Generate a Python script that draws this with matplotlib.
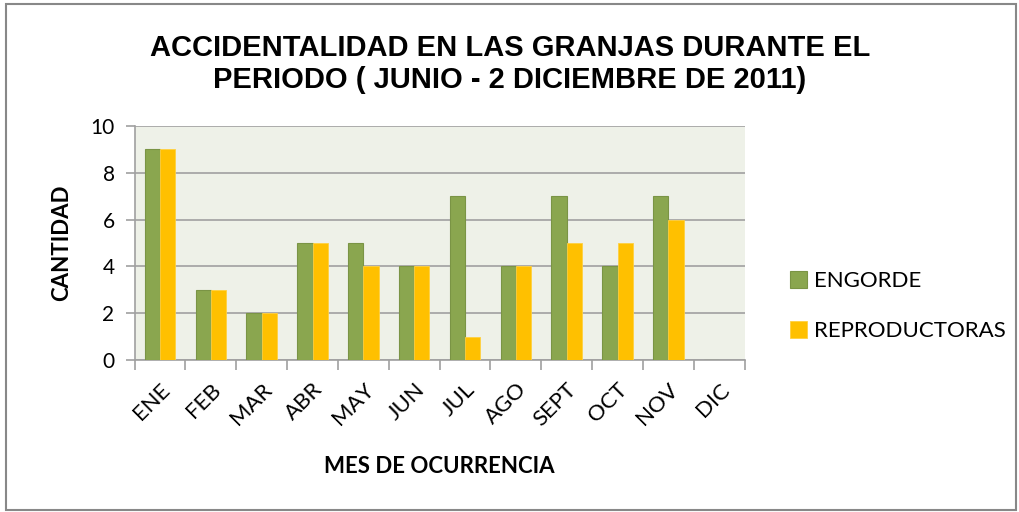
import numpy as np
import matplotlib.pyplot as plt
from matplotlib.patches import Rectangle

meses = ['ENE', 'FEB', 'MAR', 'ABR', 'MAY', 'JUN', 'JUL', 'AGO', 'SEPT', 'OCT', 'NOV', 'DIC']
engorde = [9, 3, 2, 5, 5, 4, 7, 4, 7, 4, 7, 0]
reproductoras = [9, 3, 2, 5, 4, 4, 1, 4, 5, 5, 6, 0]

verde = '#8aa64f'
amarillo = '#ffc000'
gris = '#a0a0a0'
calibri = ['Lato', 'DejaVu Sans']

plt.rcParams['font.family'] = ['Liberation Sans', 'DejaVu Sans']

fig = plt.figure(figsize=(10.2, 5.12), dpi=100)
ax = fig.add_axes([0.132, 0.297, 0.598, 0.457])
ax.set_facecolor('#eef1e8')

x = np.arange(len(meses))
w = 0.3
ax.bar(x - w / 2, engorde, w, color=verde, edgecolor='#7a9445', linewidth=0.8, label='ENGORDE', zorder=3)
ax.bar(x + w / 2, reproductoras, w, color=amarillo, edgecolor='#ffd040', linewidth=0.6, label='REPRODUCTORAS', zorder=3)

ax.set_xlim(-0.5, len(meses) - 0.5)
ax.set_ylim(0, 10)
ax.set_yticks([0, 2, 4, 6, 8, 10])
ax.set_yticklabels(['0', '2', '4', '6', '8', '10'], fontsize=15, family=calibri)
ax.yaxis.grid(True, color=gris, linewidth=1.2, zorder=1)
ax.set_axisbelow(True)

ax.set_xticks(x)
ax.set_xticklabels(meses, rotation=45, ha='right', rotation_mode='anchor',
                   fontsize=16, family=calibri)
ax.set_xticks(np.arange(-0.5, len(meses)), minor=True)
ax.tick_params(axis='x', which='major', length=0, pad=14)
ax.tick_params(axis='x', which='minor', length=7, color=gris, width=1.2)
ax.tick_params(axis='y', length=6.5, color=gris, width=1.2, pad=8)

for s in ['top', 'right']:
    ax.spines[s].set_visible(False)
for s in ['left', 'bottom']:
    ax.spines[s].set_color(gris)
    ax.spines[s].set_linewidth(1.2)

ax.set_ylabel('CANTIDAD', fontsize=16, fontweight='bold', family=calibri, labelpad=13)
ax.set_xlabel('MES DE OCURRENCIA', fontsize=16, fontweight='bold', family=calibri, labelpad=19)

fig.text(0.5, 0.875, 'ACCIDENTALIDAD EN LAS GRANJAS DURANTE EL\nPERIODO ( JUNIO - 2 DICIEMBRE DE 2011)',
         ha='center', va='center', fontsize=21, fontweight='bold', linespacing=1.2)

leg = fig.legend(loc='center left', bbox_to_anchor=(0.764, 0.402), frameon=False,
                 handlelength=0.75, handleheight=0.75, handletextpad=0.3, borderpad=0,
                 labelspacing=1.35, prop={'family': calibri, 'size': 16})

fig.patches.append(Rectangle((0.006, 0.004), 0.99, 0.988, transform=fig.transFigure,
                             fill=False, edgecolor='#888888', linewidth=1.5))

fig.savefig('out.png', dpi=100)
